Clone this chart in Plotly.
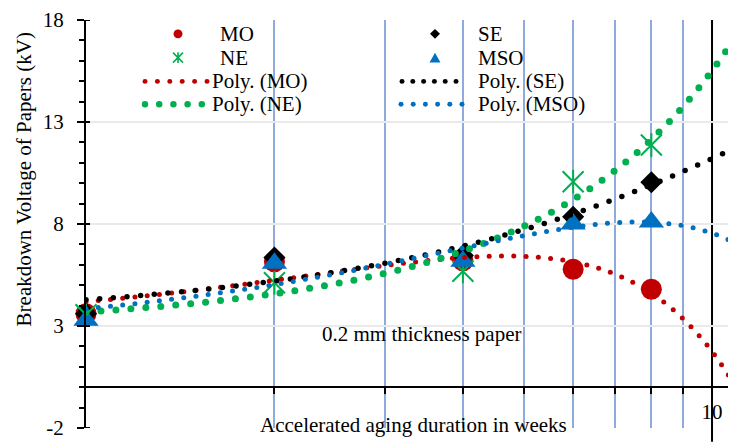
import numpy as np
import plotly.graph_objects as go

# ---------------- data ----------------
weeks = [1, 2, 4, 6, 8]
mo = [3.6, 6.15, 6.2, 5.78, 4.8]
se = [3.6, 6.36, 6.45, 8.35, 10.05]
ne = [3.55, 5.12, 5.68, 10.07, 11.87]
mso = [3.28, 6.07, 6.17, 8.0, 8.1]
y_ticks = [-2, 3, 8, 13, 18]
x_major_ticks = [10]
x_major_text = ["10"]
x_minor_ticks = [2, 3, 4, 5, 6, 7, 8, 9]

# ---------------- layout constants ----------------
OFF = 8                      # page body margin of the html page
W, H = 736 - OFF, 442 - OFF  # figure size so that it ends at the window edge
L, T = 86 - OFF, 16 - OFF    # plot-area origin inside the figure
PW, PH = 650, 412
Y_MIN, Y_MAX = -2, 18
XLOG_MAX = 1.0383
FONT = "Liberation Serif, Times New Roman, serif"

RED, BLACK, GREEN, BLUE = "#C00000", "#000000", "#00B050", "#0070C0"
GRID_BLUE = "#8FAADC"


def trend_dots(xs, ys, spacing, deg=2):
    """Polynomial trendline (Excel 'Poly.') sampled as evenly spaced round dots."""
    coef = np.polyfit(xs, ys, deg)
    lx = np.linspace(0, XLOG_MAX, 6000)
    yy = np.polyval(coef, 10 ** lx)
    px = PW * lx / XLOG_MAX
    py = PH * (yy - Y_MIN) / (Y_MAX - Y_MIN)
    s = np.concatenate([[0], np.cumsum(np.hypot(np.diff(px), np.diff(py)))])
    tgt = np.arange(0, s[-1], spacing)
    lxs = np.interp(tgt, s, lx)
    xd = 10 ** lxs
    return xd, np.polyval(coef, xd)


fig = go.Figure()

# data markers
fig.add_trace(go.Scatter(x=weeks, y=mo, mode="markers", name="MO", cliponaxis=False,
                         marker=dict(symbol="circle", size=21, color=RED), showlegend=False))
fig.add_trace(go.Scatter(x=weeks, y=se, mode="markers", name="SE", cliponaxis=False,
                         marker=dict(symbol="diamond", size=17, color=BLACK), showlegend=False))
fig.add_trace(go.Scatter(x=weeks, y=ne, mode="markers", name="NE", cliponaxis=False,
                         marker=dict(symbol="x-thin-open", size=21, color=GREEN,
                                     line=dict(width=2, color=GREEN)), showlegend=False))
fig.add_trace(go.Scatter(x=weeks, y=ne, mode="markers", name="NE", cliponaxis=False,
                         marker=dict(symbol="line-ns-open", size=17, color=GREEN,
                                     line=dict(width=2, color=GREEN)), showlegend=False))
fig.add_trace(go.Scatter(x=weeks, y=mso, mode="markers", name="MSO", cliponaxis=False,
                         marker=dict(symbol="triangle-up", size=22, color=BLUE), showlegend=False))

# polynomial trendlines as round dots
for ys, col, sp, d, nm in [(mo, RED, 12.3, 5, "Poly. (MO)"),
                           (se, BLACK, 13.7, 5.5, "Poly. (SE)"),
                           (ne, GREEN, 15.0, 7, "Poly. (NE)"),
                           (mso, BLUE, 12.3, 5, "Poly. (MSO)")]:
    xd, yd = trend_dots(weeks, ys, sp)
    fig.add_trace(go.Scatter(x=xd, y=yd, mode="markers", name=nm, cliponaxis=True,
                             marker=dict(symbol="circle", size=d, color=col), showlegend=False))


# ---------------- manual legend (shapes + text) ----------------
def pp(px, py):
    """window pixel -> paper fraction"""
    return (px - OFF - L) / PW, (T + PH - (py - OFF)) / PH


shapes = []


def circle(cx, cy, d, col):
    x0, y0 = pp(cx - d / 2, cy + d / 2)
    x1, y1 = pp(cx + d / 2, cy - d / 2)
    shapes.append(dict(type="circle", xref="paper", yref="paper", x0=x0, y0=y0, x1=x1, y1=y1,
                       fillcolor=col, line=dict(width=0), layer="above"))


def path(points, col, fill=True, closed=True, width=0):
    segs = []
    for grp in points:
        pts = [pp(*p) for p in grp]
        segs.append("M" + "L".join(f"{x:.5f},{y:.5f}" for x, y in pts) + ("Z" if closed else ""))
    shapes.append(dict(type="path", xref="paper", yref="paper", path=" ".join(segs),
                       fillcolor=col if fill else "rgba(0,0,0,0)",
                       line=dict(width=width, color=col), layer="above"))


rows = [30, 54, 78, 101]
c1k = 178
c2k, c2t = 435, 476

circle(c1k, rows[0], 9, RED)
a, b = 5, 5.5
path([[(c1k - a, rows[1] - a), (c1k + a, rows[1] + a)],
      [(c1k - a, rows[1] + a), (c1k + a, rows[1] - a)],
      [(c1k, rows[1] - b), (c1k, rows[1] + b)]], GREEN, fill=False, closed=False, width=1.6)
for i in range(6):
    circle(145 + 12.4 * i, rows[2], 5, RED)
for i in range(5):
    circle(145 + 14.2 * i, rows[3], 6.5, GREEN)

r = 5
path([[(c2k, rows[0] - r), (c2k + r, rows[0]), (c2k, rows[0] + r), (c2k - r, rows[0])]], BLACK)
path([[(c2k, rows[1] - 5), (c2k + 5.5, rows[1] + 5), (c2k - 5.5, rows[1] + 5)]], BLUE)
for i in range(6):
    circle(402 + 10.8 * i, rows[2], 5, BLACK)
for i in range(6):
    circle(401 + 12.2 * i, rows[3], 5, BLUE)

# vertical black line at 10 weeks (major gridline extending below the axis)
shapes.append(dict(type="line", xref="x", yref="paper", x0=10, x1=10, y0=-14 / PH, y1=1,
                   line=dict(color=BLACK, width=2), layer="below"))

# inner half of the major y ticks (Excel "cross" tick marks)
for v in y_ticks:
    shapes.append(dict(type="line", xref="paper", yref="y", x0=0, x1=4 / PW, y0=v, y1=v,
                       line=dict(color=BLACK, width=2), layer="above"))

annotations = []
for txt, x, y in [("MO", 218, rows[0]), ("NE", 218, rows[1]), ("Poly. (MO)", 210, rows[2]),
                  ("Poly. (NE)", 210, rows[3]), ("SE", c2t, rows[0]), ("MSO", c2t, rows[1]),
                  ("Poly. (SE)", c2t, rows[2]), ("Poly. (MSO)", c2t, rows[3])]:
    ax_, ay_ = pp(x, y)
    annotations.append(dict(text=txt, xref="paper", yref="paper", x=ax_, y=ay_, xanchor="left",
                            yanchor="middle", showarrow=False, font=dict(size=21, color="black", family=FONT)))

for txt, x, y, ang in [("Breakdown Voltage of Papers (kV)", 24, 177, -90),
                       ("Accelerated aging duration in weeks", 413, 425, 0),
                       ("0.2 mm thickness paper", 421.5, 333, 0)]:
    ax_, ay_ = pp(x, y)
    annotations.append(dict(text=txt, xref="paper", yref="paper", x=ax_, y=ay_, xanchor="center",
                            yanchor="middle", textangle=ang, showarrow=False,
                            font=dict(size=21, color="black", family=FONT)))

fig.update_layout(
    width=W, height=H, autosize=False,
    margin=dict(l=L, r=W - L - PW, t=T, b=H - T - PH, pad=0),
    paper_bgcolor="white", plot_bgcolor="white",
    font=dict(family=FONT, size=21, color="black"),
    showlegend=False,
    shapes=shapes, annotations=annotations,
    xaxis=dict(type="log", range=[0, XLOG_MAX], anchor="free", position=-Y_MIN / (Y_MAX - Y_MIN),
               showline=True, linecolor="black", linewidth=2,
               tickmode="array", tickvals=x_major_ticks, ticktext=x_major_text,
               ticks="outside", ticklen=6, tickwidth=2, tickcolor="black",
               showgrid=False, zeroline=False, ticklabeloverflow="allow",
               tickfont=dict(size=21, family=FONT, color="black"),
               minor=dict(tickmode="array", tickvals=x_minor_ticks, ticks="outside", ticklen=6,
                          tickwidth=2, tickcolor="black", showgrid=True,
                          gridcolor=GRID_BLUE, gridwidth=2)),
    yaxis=dict(range=[Y_MIN, Y_MAX], tickmode="array", tickvals=y_ticks,
               ticktext=[str(v) for v in y_ticks],
               showline=True, linecolor="black", linewidth=2,
               ticks="outside", ticklen=7, tickwidth=2, tickcolor="black",
               ticklabelstandoff=9, ticklabeloverflow="allow",
               showgrid=True, gridcolor="#EAEAEA", gridwidth=2, zeroline=False,
               tickfont=dict(size=21, family=FONT, color="black"),
               minor=dict(dtick=1, tick0=-2, ticks="outside", ticklen=5, tickwidth=1.5,
                          tickcolor="black", showgrid=False)),
)

fig.write_html("out.html")
